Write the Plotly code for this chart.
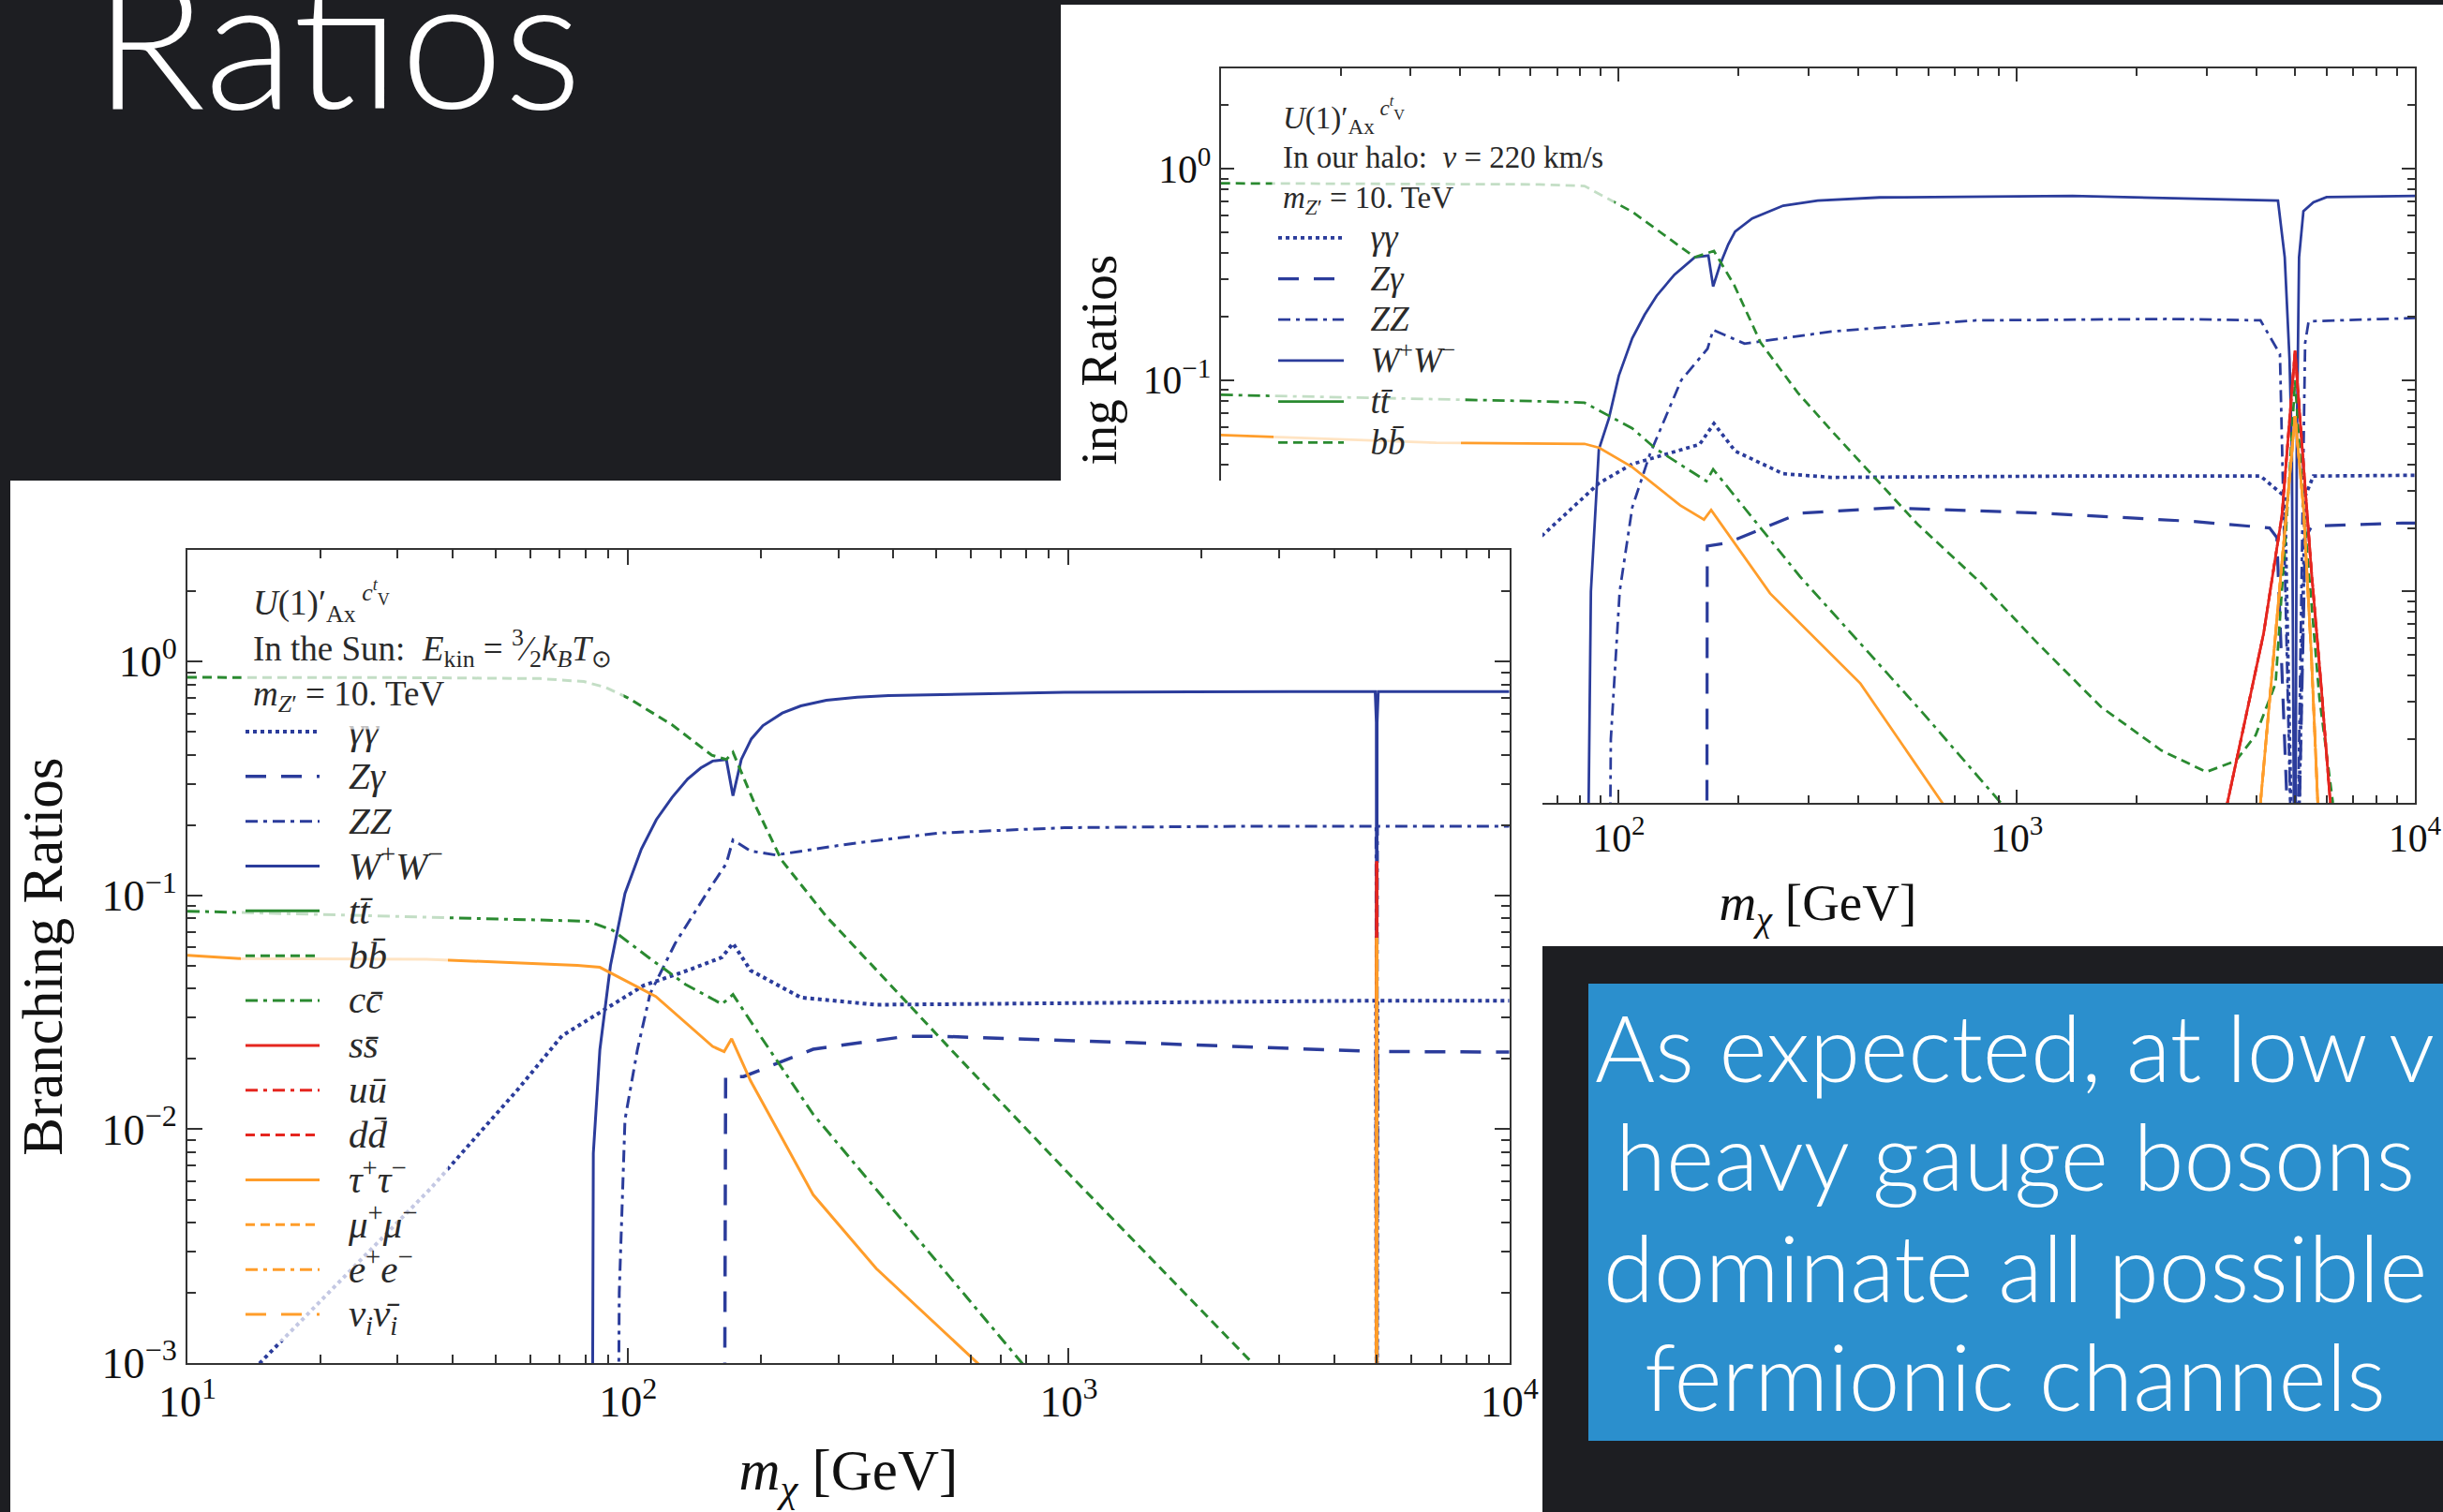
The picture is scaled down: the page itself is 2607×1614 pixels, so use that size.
import math
import plotly.graph_objects as go

W, H = 2607, 1614

# ---------------- data: front chart ("In the Sun") ----------------
sun_gg_m = [10, 14.6, 35.7, 56.2, 70.8, 79.4, 87.5, 108.4, 136.5, 163.3, 173, 189.7, 246.6, 365.6, 1000, 3162, 4980, 5000, 5020, 10000]
sun_gg_br = [0.00047, 0.001, 0.0056, 0.0148, 0.0251, 0.0288, 0.0321, 0.0412, 0.0478, 0.0544, 0.0624, 0.0478, 0.0366, 0.0341, 0.0347, 0.0351, 0.0355, 0.0001, 0.0355, 0.0355]

sun_zg_m = [165.2, 166.5, 182.8, 263, 429.5, 507, 1368, 3622, 4980, 5000, 5020, 10000]
sun_zg_br = [0.0001, 0.0167, 0.0168, 0.022, 0.025, 0.025, 0.0235, 0.0219, 0.0215, 0.0001, 0.0215, 0.0214]

sun_zz_m = [94.6, 95.5, 98.4, 105, 112.2, 127.9, 150.7, 167.1, 173, 189.7, 216.3, 309, 507, 977, 2612, 4980, 5000, 5020, 10000]
sun_zz_br = [0.0001, 0.002, 0.011, 0.0219, 0.038, 0.0624, 0.102, 0.137, 0.173, 0.155, 0.149, 0.165, 0.185, 0.195, 0.198, 0.198, 0.0001, 0.198, 0.198]

sun_ww_m = [82.8, 83.4, 86.3, 91.2, 98.4, 107.2, 115.9, 125.9, 136.5, 146.2, 155.6, 167.1, 173, 180.7, 190.5, 202.3, 223.9, 246.6, 281.8, 331.1, 389.9, 631, 977, 3162, 4960, 4990, 5000, 5010, 5040, 10000]
sun_ww_br = [0.0001, 0.0079, 0.0219, 0.0501, 0.102, 0.158, 0.211, 0.263, 0.315, 0.351, 0.376, 0.382, 0.267, 0.382, 0.468, 0.533, 0.603, 0.647, 0.684, 0.705, 0.716, 0.731, 0.74, 0.745, 0.745, 0.55, 0.0001, 0.55, 0.745, 0.745]

sun_tt_m = [5000]
sun_tt_br = [0.0001]

sun_bb_m = [10, 31.6, 63.1, 79.4, 89.1, 100, 125.9, 154.9, 167.1, 173, 195, 222.8, 281.8, 398, 540.8, 1000, 1585, 2612, 2818]
sun_bb_br = [0.857, 0.855, 0.847, 0.822, 0.776, 0.700, 0.537, 0.398, 0.382, 0.410, 0.240, 0.142, 0.0813, 0.0407, 0.0219, 0.00646, 0.00263, 0.001, 0.00085]

sun_cc_m = [10, 31.6, 70.8, 81.3, 92.3, 112.2, 134.9, 163.3, 173, 199.5, 263, 398, 788.8, 851]
sun_cc_br = [0.0857, 0.0813, 0.0785, 0.0776, 0.071, 0.0537, 0.0417, 0.0343, 0.0377, 0.0251, 0.0116, 0.00457, 0.00098, 0.00083]

sun_quark_spike_m = [4990, 5000, 5010]
sun_quark_spike_br = [0.0001, 0.14, 0.0001]

sun_tau_m = [10, 13.2, 34.9, 76.7, 86.3, 115.6, 155.6, 165.2, 171.8, 189.7, 263, 365.6, 628, 680, 4990, 5000, 5010]
sun_tau_br = [0.0555, 0.0537, 0.0534, 0.0502, 0.0493, 0.037, 0.0226, 0.0215, 0.0244, 0.0161, 0.00525, 0.00254, 0.00098, 0.0008, 0.0001, 0.066, 0.0001]

sun_lepton_spike_m = [4990, 5000, 5010]
sun_lepton_spike_br = [0.0001, 0.066, 0.0001]

# ---------------- data: back chart ("In our halo") ----------------
halo_gg_m = [10, 14.6, 35.7, 64, 89.1, 108.1, 159.6, 173.4, 196, 258.8, 342, 1380, 4093, 4710, 5000, 5300, 5559, 10000]
halo_gg_br = [0.00047, 0.001, 0.0056, 0.0183, 0.0325, 0.0401, 0.0497, 0.0624, 0.0462, 0.0361, 0.0347, 0.0352, 0.0352, 0.0282, 0.0001, 0.0282, 0.0352, 0.0355]

halo_zg_m = [166.3, 166.8, 187.9, 285, 482, 1151, 2742, 4315, 4500, 5000, 5300, 5508, 9290, 10000]
halo_zg_br = [0.0001, 0.0164, 0.017, 0.0235, 0.0249, 0.0235, 0.0215, 0.02, 0.018, 0.0001, 0.018, 0.0204, 0.0211, 0.0211]

halo_zz_m = [94.4, 95.5, 100.5, 108.1, 119.7, 143.5, 167.1, 172.6, 207, 342, 791, 2410, 4093, 4581, 5000, 5300, 5408, 10000]
halo_zz_br = [0.0001, 0.002, 0.01, 0.025, 0.0447, 0.1, 0.141, 0.173, 0.149, 0.17, 0.192, 0.195, 0.192, 0.133, 0.0001, 0.15, 0.19, 0.197]

halo_ww_m = [82.9, 85.1, 89.1, 94.4, 100, 108.1, 116.1, 124.5, 138, 155.2, 167.9, 172.6, 179.9, 188.4, 196, 216.3, 258.8, 316, 451.9, 1380, 4529, 4710, 4842, 4909, 5000, 5050, 5117, 5248, 5559, 6000, 10000]
halo_ww_br = [0.0001, 0.01, 0.047, 0.0658, 0.105, 0.158, 0.204, 0.251, 0.316, 0.382, 0.389, 0.278, 0.355, 0.44, 0.506, 0.583, 0.67, 0.708, 0.733, 0.746, 0.708, 0.382, 0.126, 0.0462, 0.0001, 0.05, 0.382, 0.631, 0.695, 0.735, 0.746]

halo_tt_m = [5000]
halo_tt_br = [0.0001]

halo_bb_m = [10, 31.6, 63.1, 82, 108.1, 155.2, 173.4, 195, 227, 281.8, 346.7, 562.3, 811, 1122, 1629, 2307, 2992, 3548, 3981, 4467, 4786, 5000, 5248, 5754, 6223, 6607]
halo_bb_br = [0.855, 0.852, 0.845, 0.83, 0.627, 0.382, 0.409, 0.282, 0.151, 0.0871, 0.0562, 0.0209, 0.011, 0.00575, 0.00284, 0.00177, 0.0014, 0.00158, 0.00209, 0.00367, 0.0251, 0.1, 0.0251, 0.00316, 0.001, 0.00063]

halo_cc_m = [10, 31.6, 63.1, 82, 108.1, 124.2, 159.6, 166, 172.6, 285, 573, 933, 1000]
halo_cc_br = [0.0853, 0.082, 0.0795, 0.0783, 0.0592, 0.0472, 0.0349, 0.0333, 0.0379, 0.0118, 0.00274, 0.00095, 0.0008]

halo_quark_spike_m = [3200, 3381, 4169, 4634, 4775, 5000, 5248, 5495, 5821, 6109, 6310]
halo_quark_spike_br = [0.0005, 0.001, 0.00634, 0.0229, 0.0462, 0.138, 0.04, 0.0126, 0.0035, 0.001, 0.0005]

halo_tau_m = [10, 34.8, 82, 89.3, 108.1, 142.6, 163.7, 170.6, 239.9, 404.6, 659.2, 700, 3900, 4093, 4467, 4786, 5000, 5248, 5495, 5702, 6000]
halo_tau_br = [0.0551, 0.0506, 0.05, 0.0479, 0.0388, 0.0256, 0.0219, 0.0243, 0.0098, 0.00367, 0.00096, 0.0008, 0.0004, 0.001, 0.0063, 0.0282, 0.0676, 0.0251, 0.005, 0.001, 0.0003]

halo_lepton_spike_m = [3900, 4093, 4467, 4786, 5000, 5248, 5495, 5702, 6000]
halo_lepton_spike_br = [0.0004, 0.001, 0.0063, 0.0282, 0.0676, 0.0251, 0.005, 0.001, 0.0003]

channel_labels = [
    "<i>γγ</i>", "<i>Zγ</i>", "<i>ZZ</i>", "<i>W</i><sup>+</sup><i>W</i><sup>−</sup>",
    "<i>tt̄</i>", "<i>bb̄</i>", "<i>cc̄</i>", "<i>ss̄</i>", "<i>uū</i>", "<i>dd̄</i>",
    "<i>τ</i><sup>+</sup><i>τ</i><sup>−</sup>", "<i>μ</i><sup>+</sup><i>μ</i><sup>−</sup>",
    "<i>e</i><sup>+</sup><i>e</i><sup>−</sup>", "<i>ν<sub>i</sub>ν̄<sub>i</sub></i>",
]

x_tick_vals = [10, 100, 1000, 10000]
x_tick_text = ["10<sup>1</sup>", "10<sup>2</sup>", "10<sup>3</sup>", "10<sup>4</sup>"]
y_tick_vals = [0.001, 0.01, 0.1, 1]
y_tick_text = ["10<sup>−3</sup>", "10<sup>−2</sup>", "10<sup>−1</sup>", "10<sup>0</sup>"]

slide_lines = ["As expected, at low v", "heavy gauge bosons", "dominate all possible", "fermionic channels"]

# ---------------- styles ----------------
BLUE, GREEN, RED, ORANGE = "#2b3c9b", "#2a8a30", "#e5261f", "#ff9d2a"
DOT, LDASH, DDOT, SDASH = "4px,4px", "22px,16px", "13px,6px,4px,6px", "10px,6px"
styles = [
    (BLUE, DOT, 4), (BLUE, LDASH, 3.5), (BLUE, DDOT, 3), (BLUE, "solid", 3),
    (GREEN, "solid", 3), (GREEN, SDASH, 3), (GREEN, DDOT, 3),
    (RED, "solid", 3), (RED, DDOT, 3), (RED, SDASH, 3),
    (ORANGE, "solid", 3), (ORANGE, SDASH, 3), (ORANGE, DDOT, 3), (ORANGE, LDASH, 3),
]

sun_series = [
    (sun_gg_m, sun_gg_br), (sun_zg_m, sun_zg_br), (sun_zz_m, sun_zz_br), (sun_ww_m, sun_ww_br),
    (sun_tt_m, sun_tt_br), (sun_bb_m, sun_bb_br), (sun_cc_m, sun_cc_br),
    (sun_quark_spike_m, sun_quark_spike_br), (sun_quark_spike_m, sun_quark_spike_br), (sun_quark_spike_m, sun_quark_spike_br),
    (sun_tau_m, sun_tau_br), (sun_lepton_spike_m, sun_lepton_spike_br),
    (sun_lepton_spike_m, sun_lepton_spike_br), (sun_lepton_spike_m, sun_lepton_spike_br),
]
halo_series = [
    (halo_gg_m, halo_gg_br), (halo_zg_m, halo_zg_br), (halo_zz_m, halo_zz_br), (halo_ww_m, halo_ww_br),
    (halo_tt_m, halo_tt_br), (halo_bb_m, halo_bb_br), (halo_cc_m, halo_cc_br),
    (halo_quark_spike_m, halo_quark_spike_br), (halo_quark_spike_m, halo_quark_spike_br), (halo_quark_spike_m, halo_quark_spike_br),
    (halo_tau_m, halo_tau_br), (halo_lepton_spike_m, halo_lepton_spike_br),
    (halo_lepton_spike_m, halo_lepton_spike_br), (halo_lepton_spike_m, halo_lepton_spike_br),
]

SERIF = "Liberation Serif"
TXT = "#2a2a2a"
NB3 = "\u00a0\u00a0\u00a0"


def legend_name(label, px):
    return NB3 + '<span style="font-size:%dpx">' % px + label + "</span>"


fig = go.Figure()

# back chart (halo) on x/y
for i, ((m, br), (col, dash, w)) in enumerate(zip(halo_series, styles)):
    fig.add_trace(go.Scatter(
        x=m, y=br, mode="lines", name=legend_name(channel_labels[i], 37),
        line=dict(color=col, dash=dash, width=w * 0.92),
        xaxis="x", yaxis="y", legend="legend2", showlegend=(i <= 5),
        hoverinfo="skip"))

# cover panel (white sheet of the front slide image) on x2/y2
fig.add_trace(go.Scatter(x=[None], y=[None], xaxis="x2", yaxis="y2",
                         showlegend=False, hoverinfo="skip"))

# front chart (sun) on x3/y3
for i, ((m, br), (col, dash, w)) in enumerate(zip(sun_series, styles)):
    fig.add_trace(go.Scatter(
        x=m, y=br, mode="lines", name=legend_name(channel_labels[i], 41),
        line=dict(color=col, dash=dash, width=w),
        xaxis="x3", yaxis="y3", legend="legend", showlegend=True,
        hoverinfo="skip"))

x_minor = [k * 10 ** e for e in range(1, 4) for k in range(2, 10)]
y_minor = [k * 10.0 ** e for e in range(-3, 0) for k in range(2, 10)] + [2, 3]


def axis_style(scale, is_x):
    return dict(
        type="log", showline=True, linecolor="#333", linewidth=2, mirror="allticks",
        ticks="inside", ticklen=16 * scale, tickwidth=2, tickcolor="#333",
        showgrid=False, zeroline=False, automargin=False,
        tickmode="array",
        tickvals=x_tick_vals if is_x else y_tick_vals,
        ticktext=x_tick_text if is_x else y_tick_text,
        tickfont=dict(family=SERIF, size=46 * scale, color="#111"),
        minor=dict(ticks="inside", ticklen=9 * scale, tickwidth=1.5, tickcolor="#333",
                   tickvals=x_minor if is_x else y_minor, showgrid=False),
        range=[1, 4] if is_x else [-3, math.log10(3)],
    )


def px_dom(a, b, total, flip=False):
    if flip:
        return [1 - b / total, 1 - a / total]
    return [a / total, b / total]


xa1 = axis_style(0.905, True)
xa1.update(domain=px_dom(1302.7, 2577, W), anchor="y",
           title=dict(text="<i>m</i><sub><i>χ</i></sub> [GeV]", standoff=27,
                      font=dict(family=SERIF, size=55, color="#111")))
ya1 = axis_style(0.905, False)
ya1.update(domain=px_dom(72.7, 857, H, True), anchor="x")

xa3 = axis_style(1.0, True)
xa3.update(domain=px_dom(200, 1610.7, W), anchor="y3",
           title=dict(text="<i>m</i><sub><i>χ</i></sub> [GeV]", standoff=26,
                      font=dict(family=SERIF, size=61, color="#111")))
ya3 = axis_style(1.0, False)
ya3.update(domain=px_dom(587.3, 1455, H, True), anchor="x3",
           title=dict(text="Branching Ratios", standoff=22,
                      font=dict(family=SERIF, size=61, color="#111")))

fig.update_layout(
    template="none",
    width=W, height=H, autosize=False,
    margin=dict(l=0, r=0, t=0, b=0, pad=0),
    paper_bgcolor="#1d1e22", plot_bgcolor="#ffffff",
    xaxis=xa1, yaxis=ya1,
    xaxis2=dict(domain=px_dom(11, 1646, W), anchor="y2", visible=False, range=[0, 1]),
    yaxis2=dict(domain=[0, 1 - 513 / H], anchor="x2", visible=False, range=[0, 1]),
    xaxis3=xa3, yaxis3=ya3,
    legend=dict(x=257 / W, y=1 - 752 / H, xanchor="left", yanchor="top",
                bgcolor="rgba(255,255,255,0.72)", borderwidth=0, itemwidth=79,
                font=dict(family=SERIF, size=34.5, color=TXT), tracegroupgap=0),
    legend2=dict(x=1359 / W, y=1 - 227 / H, xanchor="left", yanchor="top",
                 bgcolor="rgba(255,255,255,0.72)", borderwidth=0, itemwidth=70,
                 font=dict(family=SERIF, size=31.3, color=TXT), tracegroupgap=0),
    showlegend=True,
)

fig.add_shape(type="rect", xref="paper", yref="paper", layer="below",
              x0=1132 / W, x1=1.0, y0=1 - 1010 / H, y1=1 - 5 / H,
              fillcolor="#ffffff", line=dict(width=0))
fig.add_shape(type="rect", xref="paper", yref="paper", layer="above",
              x0=1695 / W, x1=1.0, y0=1 - 1538 / H, y1=1 - 1050 / H,
              fillcolor="#2b8fcd", line=dict(width=0))

header_common = dict(xref="paper", yref="paper", xanchor="left", yanchor="top",
                     align="left", showarrow=False, bgcolor="rgba(255,255,255,0.72)")
fig.add_annotation(
    x=257 / W, y=1 - 601 / H, borderpad=12,
    text=("<i>U</i>(1)′<sub>Ax</sub><sup> <i>c</i><sup><i>t</i></sup><sub>V</sub></sup><br>"
          "In the Sun:  <i>E</i><sub>kin</sub> = <sup>3</sup>⁄<sub>2</sub><i>k</i><sub><i>B</i></sub><i>T</i><sub>⊙</sub><br>"
          "<i>m</i><sub><i>Z</i>′</sub> = 10. TeV"),
    font=dict(family=SERIF, size=37, color=TXT), **header_common)
fig.add_annotation(
    x=1357 / W, y=1 - 87 / H, borderpad=11,
    text=("<i>U</i>(1)′<sub>Ax</sub><sup> <i>c</i><sup><i>t</i></sup><sub>V</sub></sup><br>"
          "In our halo:  <i>v</i> = 220 km/s<br>"
          "<i>m</i><sub><i>Z</i>′</sub> = 10. TeV"),
    font=dict(family=SERIF, size=33, color=TXT), **header_common)

# visible part of the back chart's y-axis title (the rest is hidden by the front sheet)
fig.add_annotation(x=1172 / W, y=1 - 270 / H, xref="paper", yref="paper",
                   xanchor="center", yanchor="top", textangle=-90, showarrow=False,
                   text="ing Ratios", font=dict(family=SERIF, size=55, color="#111"))

# slide title (cut by the top edge)
fig.add_annotation(x=98 / W, y=1 - 160 / H, xref="paper", yref="paper",
                   xanchor="left", yanchor="bottom", showarrow=False, text="Ratios",
                   font=dict(family="Lato", size=197, color="#ffffff", weight=300))

# slide text in the blue box, one line per annotation
for line, base in zip(slide_lines, [1156, 1272, 1391, 1507]):
    fig.add_annotation(x=2150 / W, y=1 - (base + 22) / H, xref="paper", yref="paper",
                       xanchor="center", yanchor="bottom", showarrow=False, text=line,
                       font=dict(family="Lato", size=98, color="#ffffff", weight=300))

fig.write_html("out.html", include_plotlyjs=True, config={"displayModeBar": False},
               post_script="document.body.style.margin='0';document.body.style.background='#1d1e22';")
